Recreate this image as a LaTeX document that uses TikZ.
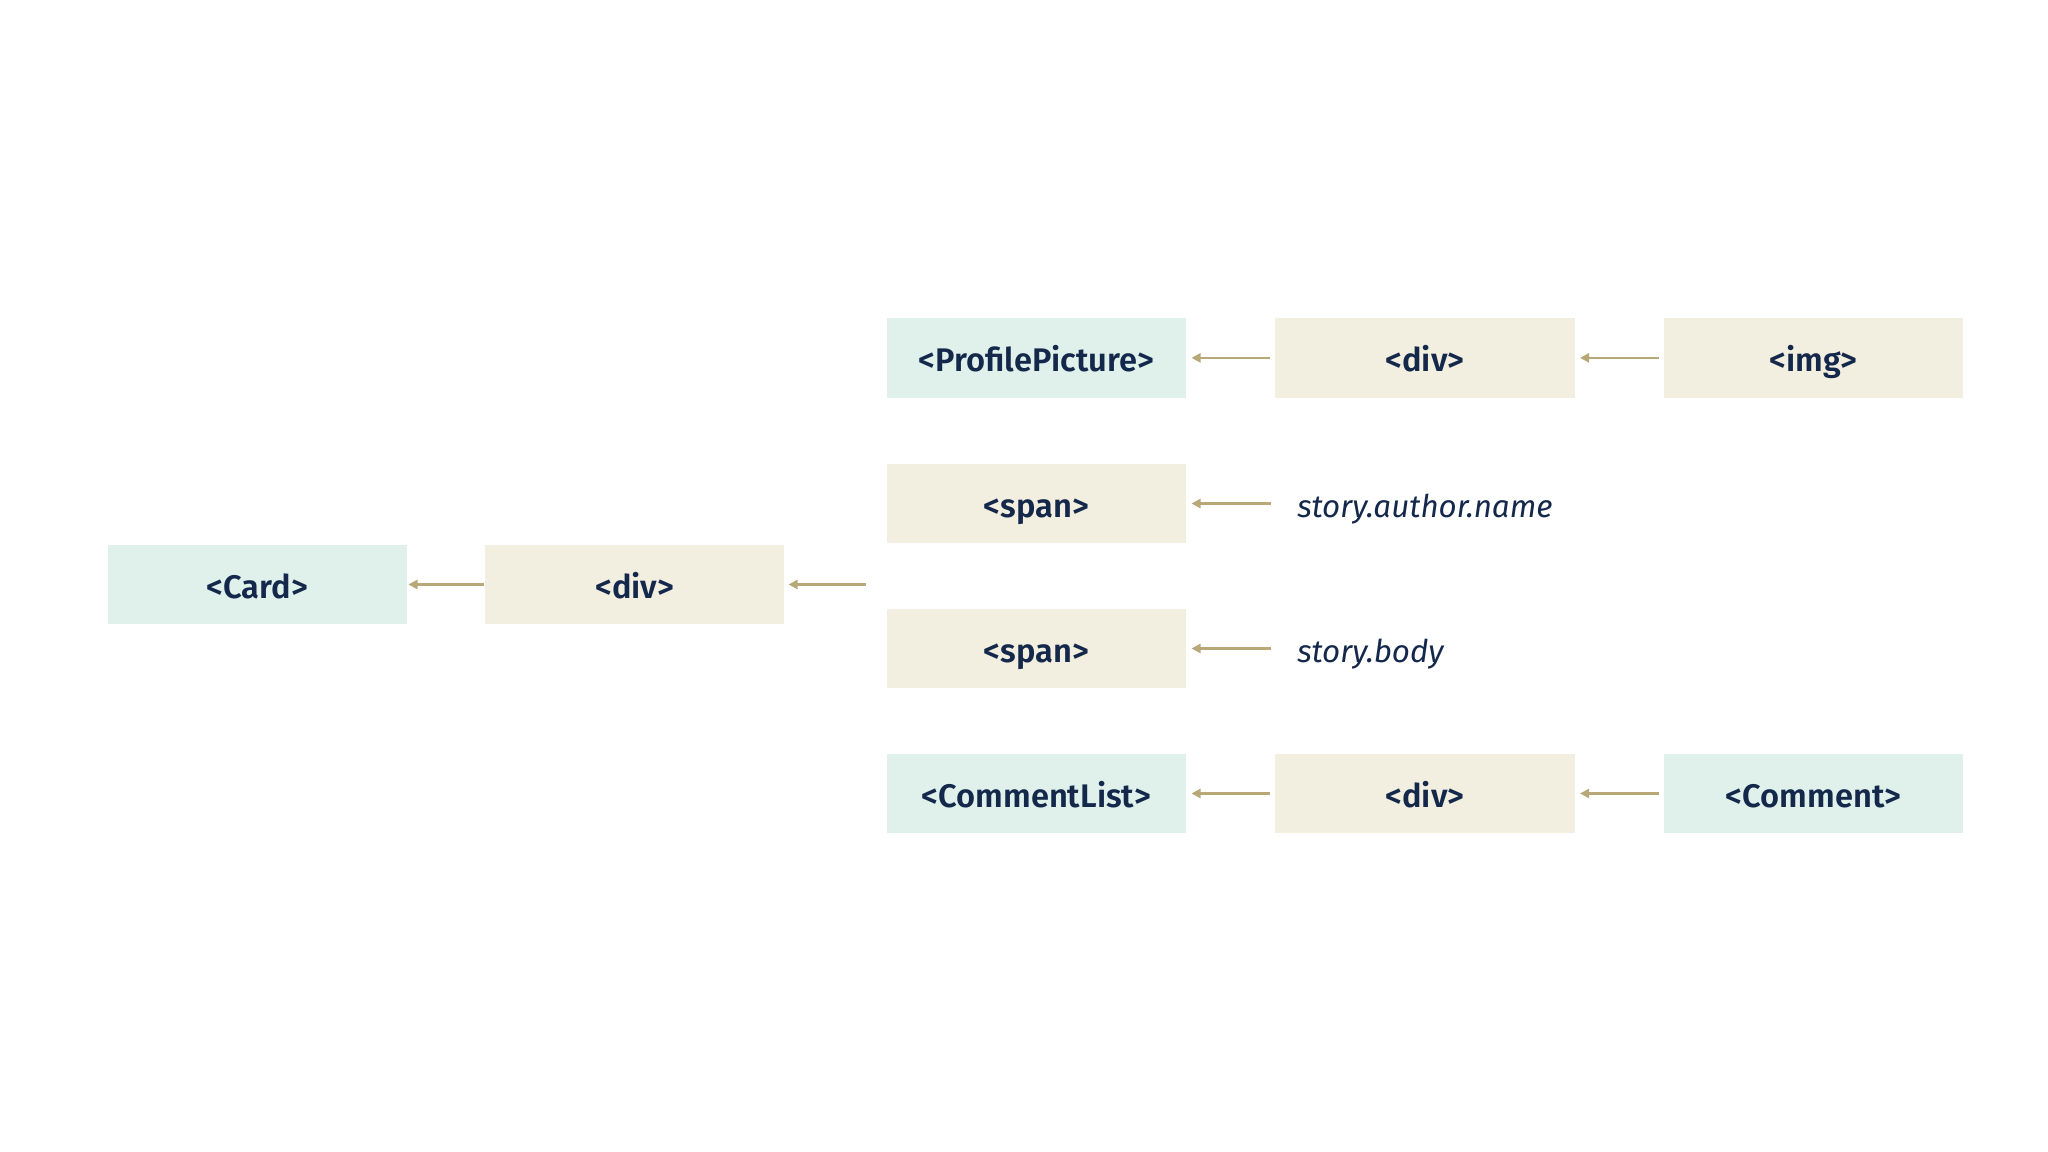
\documentclass[tikz,border=0pt]{standalone}
\usepackage{fontspec}
\setmainfont{Fira Sans}[BoldFont={Fira Sans SemiBold}]
\usetikzlibrary{arrows.meta}
\definecolor{mint}{HTML}{DFF1EA}
\definecolor{sand}{HTML}{F3EFE0}
\definecolor{ink}{HTML}{14284B}
\definecolor{olive}{HTML}{B8A878}
\tikzset{
  tag/.style={minimum width=229pt, minimum height=61pt, inner sep=0pt,
    text height=23pt, text depth=2pt,
    text=ink, font=\fontsize{25}{30}\selectfont\bfseries},
  comp/.style={tag, fill=mint},
  elem/.style={tag, fill=sand},
  expr/.style={anchor=base west, inner sep=0pt, text=ink,
    font=\fontsize{24}{29}\selectfont\itshape},
  arr/.style={draw=olive, line width=2pt, -{Triangle[length=7pt, width=7pt]}}
}
\begin{document}
\begin{tikzpicture}[x=1pt, y=-1pt]
    \useasboundingbox (0,0) rectangle (1568,882);
    % left branch
    \node[comp] (card) at (197,447.5) {<Card>};
    \node[elem] (div) at (486,447.5) {<div>};
    \coordinate (group) at (663,447.5);
    % rows
    \node[comp] (profile) at (793.5,274) {<ProfilePicture>};
    \node[elem] (pdiv) at (1091,274) {<div>};
    \node[elem] (img) at (1388.5,274) {<img>};
    \node[elem] (name) at (793.5,385.5) {<span>};
    \node[expr] (author) at (name.base -| 993,0) {story.author.name};
    \node[elem] (body) at (793.5,496.5) {<span>};
    \node[expr] (text) at (body.base -| 993,0) {story.body};
    \node[comp] (list) at (793.5,607.5) {<CommentList>};
    \node[elem] (ldiv) at (1091,607.5) {<div>};
    \node[comp] (comment) at (1388.5,607.5) {<Comment>};
    % arrows
    \draw[arr] ([xshift=-1pt]div.west) -- ([xshift=1pt]card.east);
    \draw[arr] (group) -- ([xshift=3pt]div.east);
    \draw[arr] ([xshift=-4pt]pdiv.west) -- ([xshift=4pt]profile.east);
    \draw[arr] ([xshift=-4pt]img.west) -- ([xshift=4pt]pdiv.east);
    \draw[arr] (author.west |- name.east) ++(-20pt,0) -- ([xshift=4pt]name.east);
    \draw[arr] (text.west |- body.east) ++(-20pt,0) -- ([xshift=4pt]body.east);
    \draw[arr] ([xshift=-4pt]ldiv.west) -- ([xshift=4pt]list.east);
    \draw[arr] ([xshift=-4pt]comment.west) -- ([xshift=4pt]ldiv.east);
\end{tikzpicture}
\end{document}
